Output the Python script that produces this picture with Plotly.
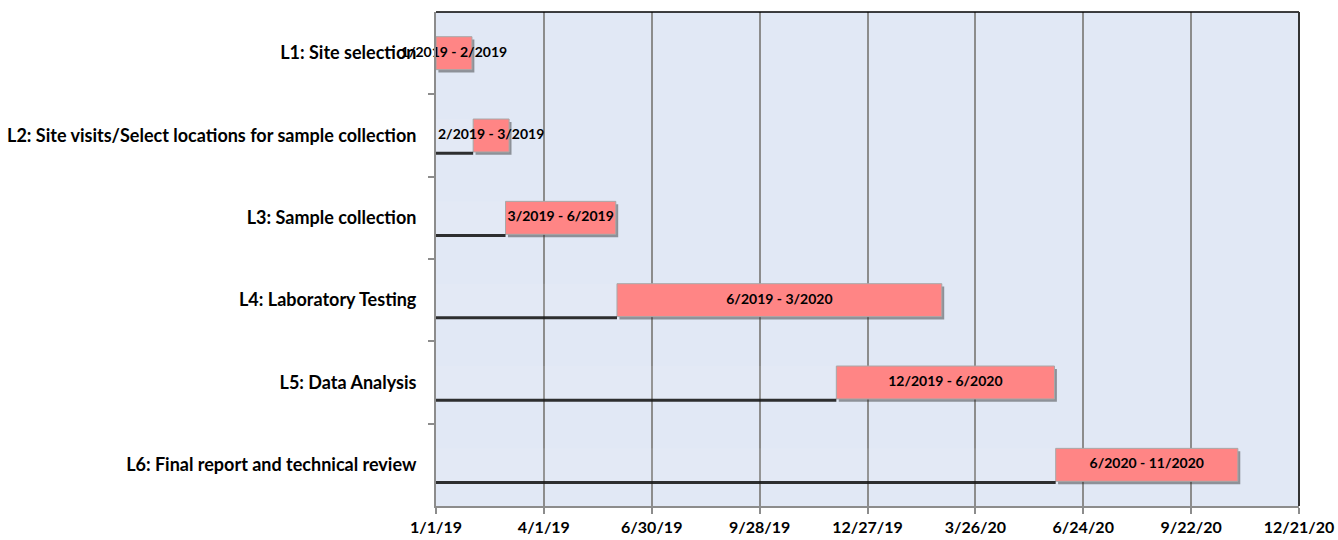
import pandas as pd
import plotly.graph_objects as go

# Project schedule
tasks = [
    "L1: Site selection",
    "L2: Site visits/Select locations for sample collection",
    "L3: Sample collection",
    "L4: Laboratory Testing",
    "L5: Data Analysis",
    "L6: Final report and technical review",
]
starts = ["2019-01-01", "2019-02-01", "2019-02-28", "2019-06-01", "2019-12-01", "2020-06-01"]
ends = ["2019-01-31", "2019-03-03", "2019-05-31", "2020-02-27", "2020-05-31", "2020-10-31"]
period_labels = [
    "1/2019 - 2/2019",
    "2/2019 - 3/2019",
    "3/2019 - 6/2019",
    "6/2019 - 3/2020",
    "12/2019 - 6/2020",
    "6/2020 - 11/2020",
]
tick_dates = ["2019-01-01", "2019-04-01", "2019-06-30", "2019-09-28", "2019-12-27",
              "2020-03-26", "2020-06-24", "2020-09-22", "2020-12-21"]
tick_labels = ["1/1/19", "4/1/19", "6/30/19", "9/28/19", "12/27/19",
               "3/26/20", "6/24/20", "9/22/20", "12/21/20"]

axis_start = pd.Timestamp("2019-01-01")
start_ts = [pd.Timestamp(s) for s in starts]
end_ts = [pd.Timestamp(e) for e in ends]
durations_ms = [(e - s).total_seconds() * 1000 for s, e in zip(start_ts, end_ts)]
lead_ms = [(s - axis_start).total_seconds() * 1000 for s in start_ts]
mids = [s + (e - s) / 2 for s, e in zip(start_ts, end_ts)]
rows = list(range(len(tasks)))

BAR_W = 0.4
FONT = "Lato"

fig = go.Figure()

# invisible lead-in segment (very faint fill)
fig.add_trace(go.Bar(
    y=rows, x=lead_ms, base=[axis_start] * len(rows), orientation="h", width=BAR_W,
    marker=dict(color="rgba(255,255,255,0.08)", line=dict(width=0)),
    hoverinfo="skip", showlegend=False,
))

# drop shadow beneath each pink bar
fig.add_trace(go.Bar(
    y=[r + 0.035 for r in rows], x=durations_ms,
    base=[s + pd.Timedelta(days=2) for s in start_ts], orientation="h", width=BAR_W,
    marker=dict(color="rgba(40,40,40,0.45)", line=dict(width=0)),
    hoverinfo="skip", showlegend=False,
))

# task bars
fig.add_trace(go.Bar(
    y=rows, x=durations_ms, base=start_ts, orientation="h", width=BAR_W,
    marker=dict(color="#FF8585", line=dict(color="#A8A8A8", width=1)),
    hoverinfo="skip", showlegend=False,
))

# shadow line under the lead-in segment
for r, s in zip(rows, start_ts):
    fig.add_trace(go.Scatter(
        x=[axis_start, s], y=[r + BAR_W / 2 + 0.015] * 2, mode="lines",
        line=dict(color="rgba(25,25,25,0.9)", width=3),
        hoverinfo="skip", showlegend=False,
    ))

# period labels centred on each bar
fig.add_trace(go.Scatter(
    x=mids, y=rows, mode="text", text=period_labels,
    textfont=dict(family=FONT, size=14, color="black", weight="bold"),
    cliponaxis=False,
    hoverinfo="skip", showlegend=False,
))

fig.update_layout(
    width=1338, height=540,
    margin=dict(l=436, r=39, t=12, b=34),
    paper_bgcolor="white",
    plot_bgcolor="#E1E8F5",
    barmode="overlay",
    font=dict(family=FONT),
)

fig.update_xaxes(
    type="date",
    range=["2019-01-01", "2020-12-21"],
    tickvals=tick_dates, ticktext=tick_labels,
    tickfont=dict(family=FONT, size=16, color="black", weight="bold"),
    showgrid=True, gridcolor="#8C8C8C", gridwidth=1.5,
    showline=True, linecolor="#8C8C8C", linewidth=2,
    ticks="outside", ticklen=6, tickcolor="#8C8C8C", tickwidth=1.5,
    zeroline=False, automargin=False,
)

fig.update_yaxes(
    range=[5.5, -0.5],
    tickvals=rows, ticktext=tasks,
    tickfont=dict(family=FONT, size=18, color="black", weight="bold"),
    ticks="", ticklabelstandoff=14,
    minor=dict(tickvals=[r + 0.5 for r in rows[:-1]], ticks="outside", ticklen=6,
               tickcolor="#8C8C8C", tickwidth=1.5, showgrid=False),
    showgrid=False,
    showline=True, linecolor="#8C8C8C", linewidth=2,
    zeroline=False, automargin=False,
)

# dark frame on top and right of the plot area
fig.add_shape(type="line", xref="paper", yref="paper", x0=0, x1=1, y0=1, y1=1,
              line=dict(color="black", width=1.5))
fig.add_shape(type="line", xref="paper", yref="paper", x0=1, x1=1, y0=0, y1=1,
              line=dict(color="#333333", width=2))

fig.write_html("out.html")
